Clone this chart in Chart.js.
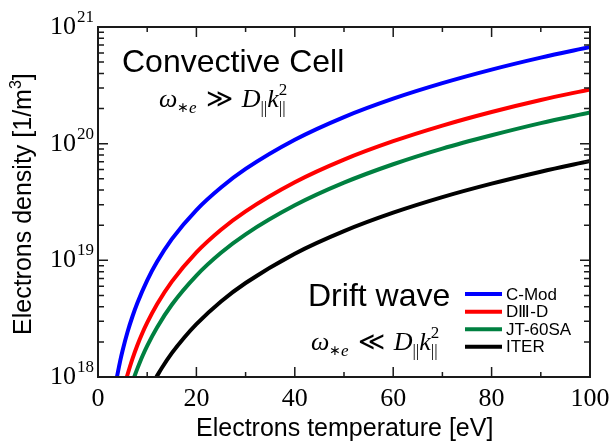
<!DOCTYPE html>
<html>
<head>
<meta charset="utf-8">
<script src="https://cdn.jsdelivr.net/npm/chart.js@4"></script>
<style>
  body { margin: 0; background: #fff; }
  #wrap { width: 610px; height: 446px; }
</style>
</head>
<body>
<div id="wrap"><canvas id="chart" width="610" height="446"></canvas></div>
<script>
// values (T in eV, n in 1/m^3)
const cmodT = [3.85, 4.5, 5, 6, 7, 8, 10, 12, 15, 20, 25, 30, 40, 50, 60, 70, 80, 90, 100];
const cmodN = [1.0e18, 1.37e18, 1.69e18, 2.43e18, 3.30e18, 4.31e18, 6.74e18, 9.71e18, 1.52e19, 2.70e19, 4.21e19, 6.07e19, 1.08e20, 1.69e20, 2.43e20, 3.30e20, 4.31e20, 5.46e20, 6.74e20];
const d3dT = [5.85, 6.5, 7, 8, 9, 10, 12, 15, 20, 25, 30, 40, 50, 60, 70, 80, 90, 100];
const d3dN = [1.0e18, 1.23e18, 1.43e18, 1.87e18, 2.37e18, 2.92e18, 4.20e18, 6.57e18, 1.17e19, 1.83e19, 2.63e19, 4.67e19, 7.30e19, 1.05e20, 1.43e20, 1.87e20, 2.37e20, 2.92e20];
const jtT = [7.35, 8, 9, 10, 12, 15, 20, 25, 30, 40, 50, 60, 70, 80, 90, 100];
const jtN = [1.0e18, 1.18e18, 1.50e18, 1.85e18, 2.66e18, 4.16e18, 7.40e18, 1.16e19, 1.67e19, 2.96e19, 4.63e19, 6.66e19, 9.07e19, 1.18e20, 1.50e20, 1.85e20];
const iterT = [11.87, 13, 15, 17.5, 20, 25, 30, 40, 50, 60, 70, 80, 90, 100];
const iterN = [1.0e18, 1.20e18, 1.60e18, 2.17e18, 2.84e18, 4.44e18, 6.39e18, 1.14e19, 1.78e19, 2.56e19, 3.48e19, 4.54e19, 5.75e19, 7.10e19];

const seriesNames = ['C-Mod', 'D\u2162-D', 'JT-60SA', 'ITER'];
const seriesColors = ['#0000ff', '#ff0000', '#008040', '#000000'];
const xTicks = [0, 20, 40, 60, 80, 100];
const yDecades = [18, 19, 20, 21];

function makeDataset(T, N, i) {
  return {
    label: seriesNames[i],
    data: T.map((t, k) => ({x: t, y: N[k]})),
    borderColor: seriesColors[i],
    borderWidth: 4,
    pointRadius: 0,
    fill: false,
    cubicInterpolationMode: 'monotone'
  };
}

const SERIF = '"Liberation Serif", "DejaVu Serif", serif';
const SANS = '"Liberation Sans", Arial, sans-serif';

// draws a row of text runs, returns end x
function drawRuns(ctx, x, y, runs) {
  for (const r of runs) {
    if (r.gap) { x += r.gap; continue; }
    if (r.stack) {
      ctx.font = r.font;
      let w = 0;
      for (const s of r.stack) {
        ctx.fillText(s.t, x, y + s.dy);
        w = Math.max(w, ctx.measureText(s.t).width);
      }
      x += w;
      continue;
    }
    ctx.font = r.font;
    ctx.fillText(r.t, x, y + (r.dy || 0));
    x += ctx.measureText(r.t).width;
  }
  return x;
}

function mathRuns(rel) {
  const big = 'italic 26px ' + SERIF;
  const up = '26px "DejaVu Serif", serif';
  const small = 'italic 17px ' + SERIF;
  const smallUp = '17px ' + SERIF;
  return [
    {t: '\u03c9', font: big},
    {t: '\u2217', font: '14px "DejaVu Sans", sans-serif', dy: 5},
    {t: 'e', font: small, dy: 6},
    {gap: 9},
    {t: rel, font: up},
    {gap: 9},
    {t: 'D', font: big},
    {t: '||', font: smallUp, dy: 6},
    {t: 'k', font: big},
    {stack: [{t: '2', dy: -12}, {t: '||', dy: 6}], font: smallUp}
  ];
}

const decorPlugin = {
  id: 'decor',
  afterDraw(chart) {
    const ctx = chart.ctx;
    const a = chart.chartArea;
    const xs = chart.scales.x, ys = chart.scales.y;
    ctx.save();
    ctx.strokeStyle = '#1a1a1a';
    ctx.fillStyle = '#000';

    // ticks on all four sides, pointing inward
    ctx.lineWidth = 1.5;
    ctx.beginPath();
    for (let v = 0; v <= 100; v += 10) {
      const px = xs.getPixelForValue(v);
      const len = v % 20 === 0 ? 10 : 5;
      ctx.moveTo(px, a.bottom); ctx.lineTo(px, a.bottom - len);
      ctx.moveTo(px, a.top); ctx.lineTo(px, a.top + len);
    }
    for (let d = 18; d < 21; d++) {
      for (let m = 1; m <= 9; m++) {
        const py = ys.getPixelForValue(m * Math.pow(10, d));
        const len = m === 1 ? 10 : 6;
        ctx.moveTo(a.left, py); ctx.lineTo(a.left + len, py);
        ctx.moveTo(a.right, py); ctx.lineTo(a.right - len, py);
      }
    }
    ctx.stroke();

    // frame
    ctx.lineWidth = 2;
    ctx.strokeRect(a.left, a.top, a.right - a.left, a.bottom - a.top);

    // x tick labels
    ctx.font = '26px ' + SERIF;
    ctx.textAlign = 'center';
    ctx.textBaseline = 'alphabetic';
    for (const v of xTicks) {
      ctx.fillText(String(v), xs.getPixelForValue(v), a.bottom + 29);
    }

    // y tick labels 10^n
    for (const d of yDecades) {
      const py = ys.getPixelForValue(Math.pow(10, d));
      ctx.textAlign = 'right';
      ctx.font = '26px ' + SERIF;
      ctx.fillText('10', 76, py + 7);
      ctx.textAlign = 'left';
      ctx.font = '17px ' + SERIF;
      ctx.fillText(String(d), 77, py - 5);
    }

    // axis titles
    ctx.textAlign = 'left';
    ctx.font = '25px ' + SANS;
    ctx.fillText('Electrons temperature [eV]', 196, 436);

    ctx.save();
    ctx.translate(31, 335);
    ctx.rotate(-Math.PI / 2);
    drawRuns(ctx, 0, 0, [
      {t: 'Electrons density [1/m', font: '25px ' + SANS},
      {t: '3', font: '16px ' + SANS, dy: -10},
      {t: ']', font: '25px ' + SANS}
    ]);
    ctx.restore();

    // annotations
    ctx.font = '32px ' + SANS;
    ctx.fillText('Convective Cell', 122, 72);
    ctx.fillText('Drift wave', 308, 306);
    drawRuns(ctx, 159, 107, mathRuns('\u226b'));
    drawRuns(ctx, 311, 350, mathRuns('\u226a'));

    // legend
    const ly = [294, 311.7, 329.3, 346.7];
    ctx.font = '17px ' + SANS;
    ctx.textBaseline = 'middle';
    chart.data.datasets.forEach((ds, i) => {
      ctx.strokeStyle = ds.borderColor;
      ctx.lineWidth = 4;
      ctx.beginPath();
      ctx.moveTo(465, ly[i]); ctx.lineTo(502, ly[i]);
      ctx.stroke();
      ctx.fillStyle = '#000';
      ctx.fillText(ds.label, 506, ly[i] + 1);
    });
    ctx.restore();
  }
};

new Chart(document.getElementById('chart'), {
  type: 'line',
  data: {
    datasets: [
      makeDataset(cmodT, cmodN, 0),
      makeDataset(d3dT, d3dN, 1),
      makeDataset(jtT, jtN, 2),
      makeDataset(iterT, iterN, 3)
    ]
  },
  options: {
    responsive: false,
    animation: false,
    layout: { padding: { top: 27, right: 20, left: 0, bottom: 0 } },
    plugins: { legend: { display: false }, tooltip: { enabled: false } },
    scales: {
      x: {
        type: 'linear', min: 0, max: 100,
        grid: { display: false }, border: { display: false },
        ticks: { display: false },
        afterFit(s) { s.height = 69; }
      },
      y: {
        type: 'logarithmic', min: 1e18, max: 1e21,
        grid: { display: false }, border: { display: false },
        ticks: { display: false },
        afterFit(s) { s.width = 98; }
      }
    }
  },
  plugins: [decorPlugin]
});
</script>
</body>
</html>
